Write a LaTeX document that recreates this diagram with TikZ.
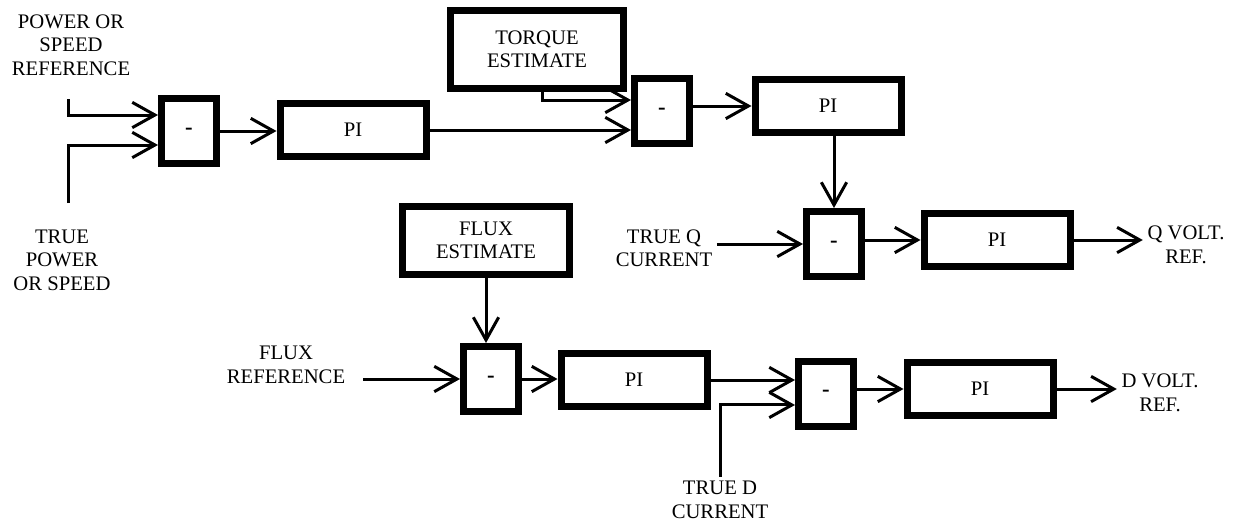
\documentclass[tikz,border=0pt]{standalone}
\usepackage{fontspec}
\setmainfont{Liberation Serif}
\usetikzlibrary{arrows.meta,positioning}
\tikzset {
  >={Straight Barb[length=17pt,width=19pt]},
  every node/.style={font=\fontsize{15.5}{17.6}\selectfont,align=center},
  wire/.style={line width=2.25pt},
  sumbox/.style={draw,line width=5.25pt,inner sep=0pt,minimum width=41.25pt,minimum height=48.75pt,font=\fontsize{17}{17.6}\selectfont\bfseries},
  pibox/.style={draw,line width=5.25pt,inner sep=0pt,minimum width=109.5pt,minimum height=39.75pt},
  estbox/.style={draw,line width=5.25pt,inner sep=0pt},
}

\begin{document}
\begin{tikzpicture}[x=0.75pt,y=-0.75pt]
  \useasboundingbox (0,0) rectangle (1233,521);
  % speed loop
  \node (spdref) at (71,45) {POWER OR\\SPEED\\REFERENCE};
  \node (spdtrue) at (62,260) {TRUE\\POWER\\OR SPEED};
  \coordinate (spdin) at (68,99);
  \coordinate (truein) at (68,203);
  \node[sumbox] (sum1) at (189,131) {-};
  \node[pibox] (pi1) at (353,130) {PI};
  \node[estbox,minimum width=129.75pt,minimum height=58.5pt] (torque) at (537,49.5) {TORQUE\\ESTIMATE};
  \node[sumbox] (sum2) at (662,111) {-};
  \node[pibox] (pi2) at (828,106) {PI};
  % q axis
  \node (trueq) at (664,248) {TRUE Q\\CURRENT};
  \node[sumbox] (sum3) at (834,244) {-};
  \node[pibox] (pi3) at (997,240) {PI};
  \node (qref) at (1186,245) {Q VOLT.\\REF.};
  % flux loop and d axis
  \node[estbox,minimum width=125.25pt,minimum height=51pt] (fluxest) at (486,240.5) {FLUX\\ESTIMATE};
  \node (fluxref) at (286,365) {FLUX\\REFERENCE};
  \node[sumbox] (sum4) at (491,379) {-};
  \node[pibox] (pi4) at (634,380) {PI};
  \node[sumbox] (sum5) at (826,393.5) {-};
  \node[pibox] (pi5) at (980,389) {PI};
  \node (dref) at (1160,393) {D VOLT.\\REF.};
  \node (trued) at (720,500) {TRUE D\\CURRENT};

  \draw[wire,->] (spdin) |- ([yshift=12pt]sum1.west);
  \draw[wire,->] (truein) |- ([yshift=-10.5pt]sum1.west);
  \draw[wire,->] (sum1.east) -- (sum1.east -| pi1.west);
  \draw[wire,->] (pi1.east) -- (pi1.east -| sum2.west);
  \draw[wire,->] ([xshift=3.75pt]torque.south) |- ([yshift=8.25pt]sum2.west);
  \draw[wire,->] (sum2.east |- pi2) -- (pi2.west);
  \draw[wire,->] (sum3.north |- pi2.south) -- (sum3.north);
  \draw[wire,->] (trueq.east |- sum3) -- (sum3.west);
  \draw[wire,->] (sum3.east |- pi3) -- (pi3.west);
  \draw[wire,->] (pi3.east) -- (pi3.east -| qref.west);
  \draw[wire,->] (fluxest.south) -- (fluxest.south |- sum4.north);
  \draw[wire,->] ([xshift=10pt]fluxref.east |- sum4) -- (sum4.west);
  \draw[wire,->] (sum4.east) -- (sum4.east -| pi4.west);
  \draw[wire,->] (pi4.east) -- (pi4.east -| sum5.west);
  \draw[wire,->] (trued.north) |- ([yshift=-8.6pt]sum5.west);
  \draw[wire,->] (sum5.east |- pi5) -- (pi5.west);
  \draw[wire,->] (pi5.east) -- (pi5.east -| dref.west);
\end{tikzpicture}
\end{document}
